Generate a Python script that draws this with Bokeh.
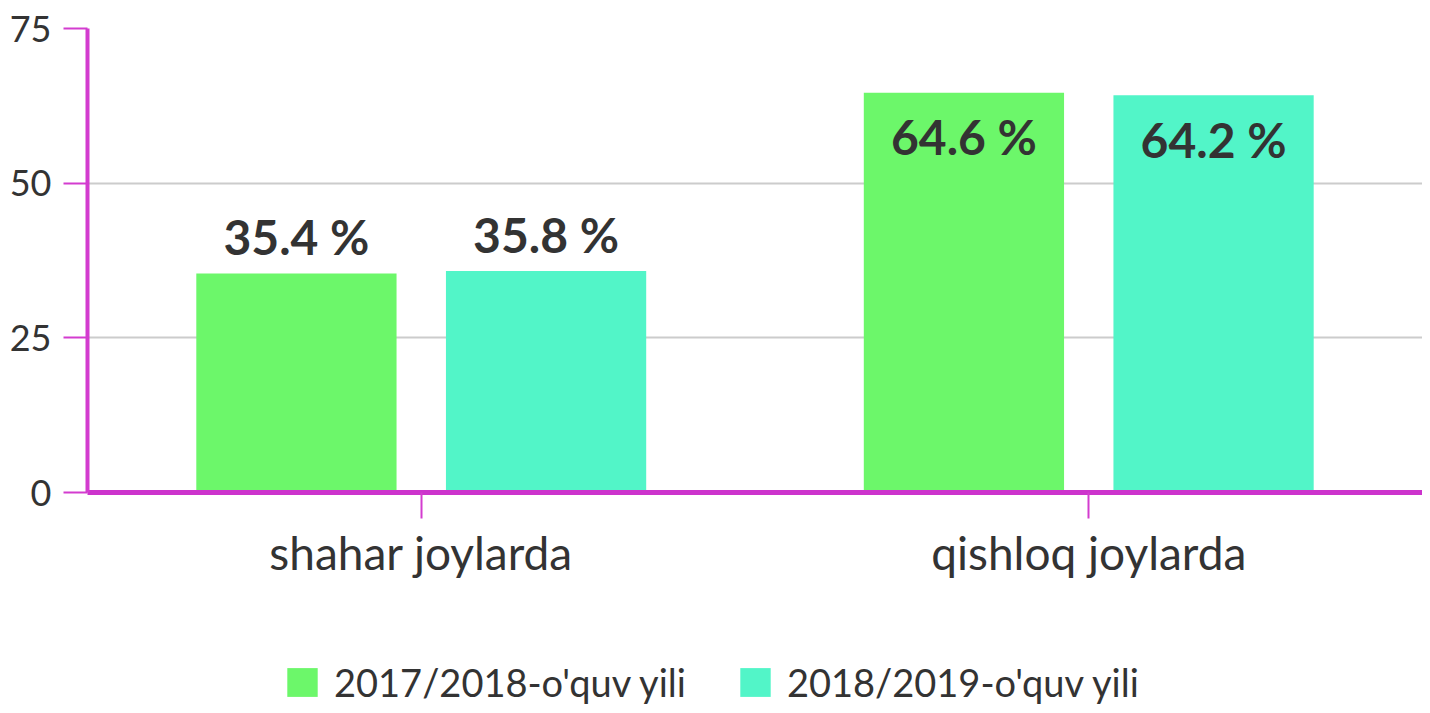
from bokeh.plotting import figure
from bokeh.layouts import column
from bokeh.models import FactorRange, FixedTicker, Legend, LegendItem, ColumnDataSource
from bokeh.transform import dodge
from bokeh.core.properties import value
from bokeh.embed import file_html
from bokeh.resources import INLINE

categories = ["shahar joylarda", "qishloq joylarda"]
series_names = ["2017/2018-o'quv yili", "2018/2019-o'quv yili"]
values_2017 = [35.4, 64.6]
values_2018 = [35.8, 64.2]
y_ticks = [0, 25, 50, 75]

colors = ["#6cf76a", "#52f5c8"]
magenta = "#d33ccf"
text_color = "#333333"
FONT = "Lato"

W = 1422
p = figure(x_range=FactorRange(*categories, range_padding=0), y_range=(0, 75),
           width=W, height=600, output_backend="svg", toolbar_location=None,
           min_border_left=87, min_border_right=0, min_border_top=28, min_border_bottom=108)
p.x_range.range_padding = 0
p.outline_line_color = None

src = ColumnDataSource(dict(cat=categories, v1=values_2017, v2=values_2018))

offsets = [-0.187, 0.187]
for i, col in enumerate(["v1", "v2"]):
    p.vbar(x=dodge("cat", offsets[i], range=p.x_range), top=col, width=0.30,
           source=src, fill_color=colors[i], line_color=None)
    vals = values_2017 if i == 0 else values_2018
    above = [k for k, v in enumerate(vals) if v <= 50]
    inside = [k for k, v in enumerate(vals) if v > 50]
    for idx, yoff in ((above, -37), (inside, 44)):
        if not idx:
            continue
        s = ColumnDataSource(dict(cat=[categories[k] for k in idx],
                                  v=[vals[k] for k in idx],
                                  t=[f"{vals[k]} %" for k in idx]))
        p.text(x=dodge("cat", offsets[i], range=p.x_range), y="v", text="t", source=s,
               text_align="center", text_baseline="alphabetic", y_offset=yoff,
               text_font=value(FONT), text_font_style="bold", text_font_size="48px",
               text_color=text_color)

# axes
p.yaxis.ticker = FixedTicker(ticks=y_ticks)
p.yaxis.axis_line_color = magenta
p.yaxis.axis_line_width = 4
p.yaxis.major_tick_line_color = magenta
p.yaxis.major_tick_line_width = 2
p.yaxis.major_tick_out = 24
p.yaxis.major_tick_in = 0
p.yaxis.minor_tick_line_color = None
p.yaxis.major_label_standoff = 12
p.yaxis.major_label_text_font = FONT
p.yaxis.major_label_text_font_size = "36px"
p.yaxis.major_label_text_color = text_color

p.xaxis.axis_line_color = "#cc33cc"
p.xaxis.axis_line_width = 5
p.xaxis.major_tick_line_color = magenta
p.xaxis.major_tick_line_width = 2
p.xaxis.major_tick_out = 26
p.xaxis.major_tick_in = 0
p.xaxis.minor_tick_line_color = None
p.xaxis.major_label_standoff = 6
p.xaxis.major_label_text_font = FONT
p.xaxis.major_label_text_font_size = "46px"
p.xaxis.major_label_text_color = text_color

p.xgrid.grid_line_color = None
p.ygrid.grid_line_color = "#cccccc"
p.ygrid.grid_line_width = 2

# legend strip below the chart (proxy renderers lie outside its visible range)
lf = figure(width=W, height=105, x_range=(0, 1), y_range=(0, 1), output_backend="svg",
            toolbar_location=None, x_axis_type=None, y_axis_type=None,
            min_border_left=0, min_border_right=0, min_border_top=0, min_border_bottom=0)
lf.outline_line_color = None
legend_renderers = []
for i in range(2):
    proxy = ColumnDataSource(dict(x=[-10.0], top=[0.0], color=[colors[i]]))
    legend_renderers.append(lf.vbar(x="x", top="top", width=0.3, fill_color="color",
                                    line_color=None, source=proxy))
legend = Legend(items=[LegendItem(label=series_names[i], renderers=[legend_renderers[i]], index=0)
                       for i in range(2)],
                location=(196, 0), orientation="horizontal",
                label_text_font=FONT, label_text_font_size="38px", label_text_color=text_color,
                glyph_width=38, glyph_height=36, label_standoff=13, spacing=50,
                padding=0, margin=0, border_line_color=None, background_fill_alpha=0)
lf.add_layout(legend, "center")

open("out.html", "w").write(file_html(column(p, lf), INLINE))
